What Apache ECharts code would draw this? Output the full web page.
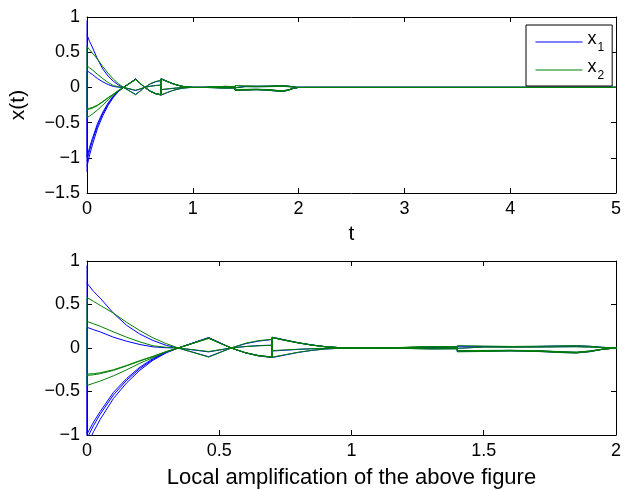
<!DOCTYPE html>
<html><head><meta charset="utf-8">
<script src="https://cdn.jsdelivr.net/npm/echarts@6/dist/echarts.min.js"></script>
<style>html,body{margin:0;padding:0;background:#fff}#c{width:624px;height:490px}</style>
</head><body><div id="c"></div>
<script>
// time knots (repeated t = jump/impulse instants)
const tKnots = [0, 0, 0.025, 0.05, 0.1, 0.15, 0.2, 0.25, 0.3, 0.345, 0.46, 0.545, 0.6, 0.65, 0.70, 0.70,
  0.75, 0.8, 0.85, 0.9, 0.95, 1.0, 1.1, 1.2, 1.3, 1.4, 1.4, 1.5, 1.6, 1.7, 1.8, 1.85, 1.9, 1.95, 2.0, 2.1, 2.2, 5.0];

// x1 component (blue), one array per agent
const x1Agent1 = [0.95, 0.745, 0.65, 0.573, 0.40, 0.26, 0.16, 0.086, 0.03, 0, -0.10, 0, 0.05, 0.08, 0.097, -0.11,
  -0.08, -0.05, -0.028, -0.012, -0.004, 0, 0, -0.004, -0.01, -0.008, 0.02, 0.018, 0.016, 0.018, 0.024, 0.026, 0.02, 0.008, 0, 0, 0, 0];
const x1Agent2 = [-1.04, 0.238, 0.21, 0.185, 0.124, 0.078, 0.04, 0.013, 0.003, 0, -0.045, 0, 0.018, 0.028, 0.033, -0.035,
  -0.025, -0.016, -0.009, -0.004, -0.001, 0, 0, -0.002, -0.005, -0.004, 0.012, 0.012, 0.01, 0.012, 0.015, 0.016, 0.012, 0.005, 0, 0, 0, 0];
const x1Agent3 = [0.75, -0.99, -0.85, -0.73, -0.51, -0.35, -0.22, -0.12, -0.045, 0, 0.115, 0, -0.055, -0.088, -0.104, 0.12,
  0.088, 0.058, 0.033, 0.015, 0.005, 0, 0, 0.004, 0.01, 0.008, -0.032, -0.03, -0.028, -0.032, -0.045, -0.05, -0.036, -0.013, 0, 0, 0, 0];
const x1Agent4 = [-1.12, -1.04, -0.89, -0.76, -0.54, -0.37, -0.235, -0.13, -0.05, 0, 0.118, 0, -0.056, -0.09, -0.106, 0.122,
  0.09, 0.059, 0.034, 0.015, 0.005, 0, 0, 0.005, 0.011, 0.009, -0.036, -0.034, -0.03, -0.035, -0.05, -0.054, -0.04, -0.014, 0, 0, 0, 0];
const x1Agent5 = [-1.2, -1.12, -0.96, -0.82, -0.58, -0.40, -0.255, -0.14, -0.055, 0, 0.12, 0, -0.058, -0.092, -0.108, 0.124,
  0.092, 0.06, 0.035, 0.016, 0.005, 0, 0, 0.005, 0.012, 0.01, -0.04, -0.037, -0.033, -0.038, -0.052, -0.056, -0.042, -0.015, 0, 0, 0, 0];

// x2 component (green)
const x2Agent1 = [0.3, 0.58, 0.535, 0.49, 0.40, 0.295, 0.20, 0.116, 0.05, 0, -0.105, 0, 0.055, 0.085, 0.10, -0.105,
  -0.076, -0.048, -0.027, -0.011, -0.004, 0, 0, -0.005, -0.012, -0.01, 0.027, 0.022, 0.018, 0.02, 0.025, 0.027, 0.02, 0.008, 0, 0, 0, 0];
const x2Agent2 = [-0.43, 0.305, 0.278, 0.25, 0.185, 0.124, 0.07, 0.025, 0.008, 0, -0.04, 0, 0.016, 0.025, 0.03, -0.03,
  -0.022, -0.014, -0.008, -0.003, -0.001, 0, 0, -0.002, -0.004, -0.003, 0.01, 0.01, 0.009, 0.01, 0.013, 0.014, 0.01, 0.004, 0, 0, 0, 0];
const x2Agent3 = [-0.30, -0.30, -0.295, -0.285, -0.25, -0.20, -0.145, -0.095, -0.04, 0, 0.11, 0, -0.054, -0.087, -0.102, 0.118,
  0.087, 0.057, 0.033, 0.015, 0.005, 0, 0, 0.006, 0.014, 0.01, -0.03, -0.028, -0.026, -0.03, -0.043, -0.048, -0.035, -0.012, 0, 0, 0, 0];
const x2Agent4 = [-0.315, -0.315, -0.308, -0.295, -0.258, -0.205, -0.15, -0.098, -0.042, 0, 0.112, 0, -0.055, -0.089, -0.105, 0.12,
  0.088, 0.058, 0.034, 0.015, 0.005, 0, 0, 0.006, 0.014, 0.01, -0.033, -0.031, -0.028, -0.032, -0.046, -0.05, -0.037, -0.013, 0, 0, 0, 0];
const x2Agent5 = [-0.43, -0.43, -0.405, -0.38, -0.32, -0.25, -0.175, -0.11, -0.045, 0, 0.115, 0, -0.057, -0.091, -0.108, 0.123,
  0.091, 0.06, 0.035, 0.016, 0.005, 0, 0, 0.007, 0.015, 0.012, -0.044, -0.04, -0.035, -0.04, -0.054, -0.058, -0.043, -0.015, 0, 0, 0, 0];

const topXTicks = [0, 1, 2, 3, 4, 5];
const topYTicks = [-1.5, -1, -0.5, 0, 0.5, 1];
const botXTicks = [0, 0.5, 1, 1.5, 2];
const botYTicks = [-1, -0.5, 0, 0.5, 1];

const seriesNames = ['x1', 'x2'];
const blueSet = [x1Agent1, x1Agent2, x1Agent3, x1Agent4, x1Agent5];
const greenSet = [x2Agent1, x2Agent2, x2Agent3, x2Agent4, x2Agent5];

const FONT = 'Liberation Sans, Arial, Helvetica, sans-serif';
const fmt = v => String(v).replace('-', '\u2212');

function axisCommon(extra) {
  return Object.assign({
    type: 'value',
    axisLine: { show: true, onZero: false, lineStyle: { color: '#000', width: 1 } },
    axisTick: { show: true, inside: true, length: 5, lineStyle: { color: '#000' } },
    splitLine: { show: false },
    axisLabel: { color: '#000', fontSize: 18, fontFamily: FONT, formatter: fmt, margin: 7 }
  }, extra);
}
function hidden(extra) {
  const a = axisCommon(extra);
  a.axisLabel = { show: false };
  return a;
}

const series = [];
[0, 1].forEach(g => {
  blueSet.forEach(arr => series.push({
    type: 'line', name: seriesNames[0], xAxisIndex: g * 2, yAxisIndex: g * 2,
    data: tKnots.map((t, i) => [t, arr[i]]), symbol: 'none', showSymbol: false,
    lineStyle: { color: '#0000ff', width: 1 }, itemStyle: { color: '#0000ff' }, silent: true
  }));
  greenSet.forEach(arr => series.push({
    type: 'line', name: seriesNames[1], xAxisIndex: g * 2, yAxisIndex: g * 2,
    data: tKnots.map((t, i) => [t, arr[i]]), symbol: 'none', showSymbol: false,
    lineStyle: { color: '#008000', width: 1 }, itemStyle: { color: '#008000' }, silent: true
  }));
});

const chart = echarts.init(document.getElementById('c'), null, { renderer: 'canvas' });
chart.setOption({
  animation: false,
  backgroundColor: '#fff',
  grid: [
    { left: 87, top: 17, width: 530, height: 176 },
    { left: 87, top: 261, width: 530, height: 175 }
  ],
  xAxis: [
    axisCommon({ gridIndex: 0, position: 'bottom', min: topXTicks[0], max: topXTicks[topXTicks.length - 1], interval: 1,
      name: 't', nameLocation: 'middle', nameGap: 31, nameTextStyle: { fontSize: 21, fontFamily: FONT, color: '#000' } }),
    hidden({ gridIndex: 0, position: 'top', min: topXTicks[0], max: topXTicks[topXTicks.length - 1], interval: 1 }),
    axisCommon({ gridIndex: 1, position: 'bottom', min: botXTicks[0], max: botXTicks[botXTicks.length - 1], interval: 0.5,
      name: 'Local amplification of the above figure', nameLocation: 'middle', nameGap: 32,
      nameTextStyle: { fontSize: 22, fontFamily: FONT, color: '#000' } }),
    hidden({ gridIndex: 1, position: 'top', min: botXTicks[0], max: botXTicks[botXTicks.length - 1], interval: 0.5 })
  ],
  yAxis: [
    axisCommon({ gridIndex: 0, position: 'left', min: topYTicks[0], max: topYTicks[topYTicks.length - 1], interval: 0.5,
      name: 'x(t)', nameLocation: 'middle', nameRotate: 90, nameGap: 58,
      nameTextStyle: { fontSize: 21, fontFamily: FONT, color: '#000' } }),
    hidden({ gridIndex: 0, position: 'right', min: topYTicks[0], max: topYTicks[topYTicks.length - 1], interval: 0.5 }),
    axisCommon({ gridIndex: 1, position: 'left', min: botYTicks[0], max: botYTicks[botYTicks.length - 1], interval: 0.5 }),
    hidden({ gridIndex: 1, position: 'right', min: botYTicks[0], max: botYTicks[botYTicks.length - 1], interval: 0.5 })
  ],
  legend: {
    data: seriesNames, orient: 'vertical', left: 526, top: 25,
    padding: [5, 8, 4, 9], itemWidth: 47, itemHeight: 14, itemGap: 4,
    borderColor: '#000', borderWidth: 1, backgroundColor: '#fff', borderRadius: 0,
    selectedMode: false,
    itemStyle: { opacity: 0 },
    lineStyle: { width: 1 },
    formatter: n => '{m|x}{s|' + n.slice(1) + '}',
    textStyle: { color: '#000', fontFamily: FONT, rich: {
      m: { fontSize: 18, lineHeight: 18, fontFamily: FONT, color: '#000', padding: [0, 0, 6, 0] },
      s: { fontSize: 12, lineHeight: 12, fontFamily: FONT, color: '#000', padding: [12, 0, 0, 1] }
    } }
  },
  series: series
});
</script></body></html>
